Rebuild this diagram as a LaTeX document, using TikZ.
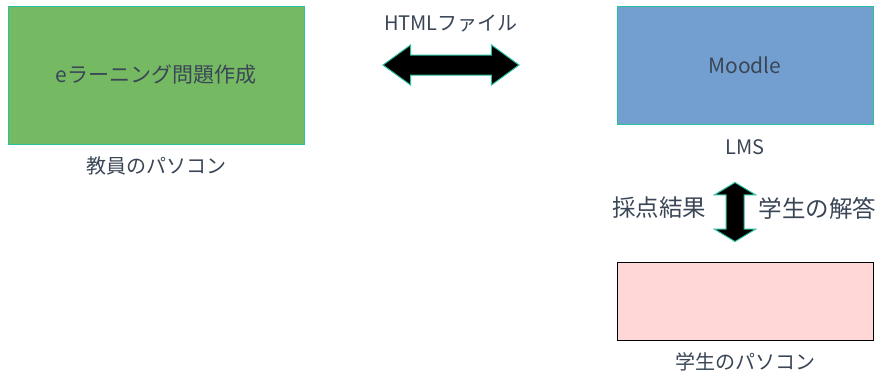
\documentclass[tikz,border=0pt]{standalone}
\usepackage{fontspec}
\setmainfont{Noto Sans CJK JP}
\usetikzlibrary{positioning,shapes.arrows}
\definecolor{colorPC}{HTML}{76B963}
\definecolor{colorLMS}{HTML}{729FCF}
\definecolor{colorSt}{HTML}{FFD7D7}
\definecolor{colorEdge}{HTML}{2BC0A0}
\definecolor{colorText}{HTML}{3A4656}

\begin{document}
\begin{tikzpicture}[x=1pt,y=-1pt,node distance=9pt,every node/.append style={align=center,text=colorText},box/.style={draw=colorEdge,line width=1pt},lab/.style={font=\fontsize{20}{24}\selectfont},side/.style={font=\fontsize{23.5}{27}\selectfont},fat/.style={double arrow,draw=colorEdge,fill=black,line width=1pt,inner xsep=0pt},]
    \useasboundingbox (0,0) rectangle (881,375);
    \node [box, fill=colorPC, minimum width=296pt, minimum height=138pt, font=\fontsize{21}{25}\selectfont] (pc) at (156,75) {eラーニング問題作成};
    \node [lab, below=of pc] (pclab) {教員のパソコン};
    \node [box, fill=colorLMS, minimum width=256pt, minimum height=118pt, font=\fontsize{21}{25}\selectfont] (lms) at (745,65) {Moodle};
    \node [lab, below=12pt of lms] (lmslab) {LMS};
    \node [box, draw=black, fill=colorSt, minimum width=256pt, minimum height=78pt] (st) at (745,301) {};
    \node [lab, below=of st] (stlab) {学生のパソコン};
    % fat arrows
    \node [fat, inner ysep=9.5pt, minimum height=136pt, double arrow head extend=10pt, double arrow tip angle=72] (html) at (451,65) {};
    \node [lab, above=19pt of html] (htmllab) {HTMLファイル};
    \node [fat, rotate=90, inner ysep=8.5pt, minimum height=59pt, double arrow head extend=11.5pt, double arrow tip angle=118] (ans) at (735,212) {};
    \node [side, left=25pt of ans.center, yshift=4pt] (score) {採点結果};
    \node [side, right=20pt of ans.center, yshift=4pt] (answer) {学生の解答};
\end{tikzpicture}
\end{document}
